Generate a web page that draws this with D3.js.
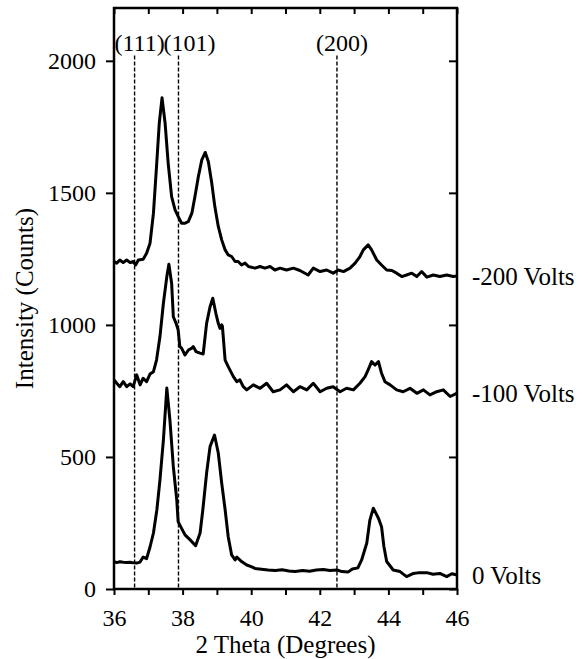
<!DOCTYPE html>
<html>
<head>
<meta charset="utf-8">
<script src="https://cdn.jsdelivr.net/npm/d3@7"></script>
<style>
  html, body { margin: 0; padding: 0; background: #fff; }
  svg { display: block; }
  svg text { font-family: "Liberation Serif", "DejaVu Serif", serif !important; fill: #000; }
</style>
</head>
<body>
<svg id="chart" width="588" height="659"></svg>
<script>
// ---- data ----
const xTicks = [36, 37, 38, 39, 40, 41, 42, 43, 44, 45, 46];
const yTicks = [0, 500, 1000, 1500, 2000];

const theta0 = [36.00,36.08,36.17,36.27,36.37,36.47,36.56,36.66,36.76,36.85,36.95,37.05,37.15,37.25,37.34,37.44,37.54,37.63,37.73,37.83,37.87,37.92,38.07,38.22,38.38,38.51,38.59,38.70,38.80,38.93,39.04,39.14,39.24,39.33,39.43,39.53,39.58,39.72,39.87,40.00,40.11,40.30,40.49,40.70,40.90,41.10,41.28,41.50,41.70,41.90,42.10,42.30,42.50,42.65,42.82,42.95,43.11,43.22,43.37,43.46,43.56,43.71,43.80,43.87,43.95,44.14,44.34,44.53,44.73,44.90,45.12,45.30,45.50,45.70,45.85,46.00];
const volts0 = [104,100,103,101,100,101,99,98,102,121,115,159,212,300,413,564,761,640,463,337,255,242,205,186,164,212,300,439,539,583,515,401,300,198,129,110,121,104,91,85,78,75,72,70,73,68,66,70,67,72,74,70,72,66,64,76,80,110,174,261,306,268,236,160,104,72,66,47,59,62,62,56,59,47,58,53];

const theta100 = [36.00,36.08,36.17,36.27,36.37,36.47,36.56,36.66,36.76,36.85,36.95,37.05,37.15,37.24,37.34,37.44,37.54,37.60,37.68,37.73,37.81,37.87,37.92,37.97,38.07,38.17,38.27,38.31,38.39,38.51,38.60,38.70,38.80,38.88,38.97,39.04,39.09,39.14,39.16,39.24,39.33,39.48,39.58,39.67,39.77,39.87,40.06,40.26,40.45,40.64,40.84,41.03,41.23,41.42,41.62,41.81,42.01,42.20,42.39,42.59,42.78,42.98,43.17,43.32,43.41,43.51,43.61,43.71,43.80,43.90,44.05,44.24,44.43,44.63,44.83,45.02,45.21,45.41,45.60,45.80,45.99];
const volts100 = [792,779,766,785,766,777,766,811,773,798,785,814,823,867,956,1082,1183,1230,1158,1031,1006,981,918,912,886,905,912,918,899,893,890,1006,1069,1101,1044,1006,987,1000,995,867,842,804,785,792,766,754,773,760,779,747,754,773,747,766,754,779,747,760,766,747,760,754,779,804,830,861,848,861,817,785,773,754,747,760,741,754,735,747,754,729,741];

const theta200 = [36.00,36.08,36.17,36.27,36.37,36.47,36.56,36.63,36.71,36.85,36.95,37.05,37.15,37.24,37.32,37.40,37.49,37.58,37.68,37.78,37.87,37.97,38.07,38.17,38.27,38.36,38.46,38.56,38.66,38.75,38.85,38.94,39.04,39.14,39.24,39.33,39.43,39.53,39.62,39.72,39.82,39.92,40.11,40.26,40.40,40.55,40.69,40.84,41.03,41.23,41.42,41.66,41.81,42.01,42.20,42.39,42.54,42.69,42.88,43.03,43.17,43.27,43.41,43.51,43.66,43.80,43.95,44.10,44.24,44.39,44.53,44.68,44.83,44.97,45.12,45.31,45.50,45.70,45.89,46.00];
const volts200 = [1240,1234,1246,1236,1246,1236,1240,1227,1246,1249,1271,1309,1423,1600,1764,1860,1764,1612,1486,1436,1411,1385,1385,1392,1423,1486,1562,1625,1653,1619,1537,1448,1373,1322,1284,1265,1259,1240,1240,1227,1234,1221,1215,1221,1215,1221,1208,1215,1208,1215,1206,1189,1215,1202,1208,1196,1208,1202,1215,1234,1259,1284,1303,1284,1246,1227,1208,1206,1196,1183,1189,1196,1183,1202,1181,1189,1183,1189,1183,1185];

const seriesLabels = ["0 Volts", "-100 Volts", "-200 Volts"];
const peakNames = ["(111)", "(101)", "(200)"];
const peakPos = [36.6, 37.88, 42.5];

// ---- layout ----
const svg = d3.select("#chart");
const mL = 114, mR = 457, mT = 8, mB = 589;
const FONT = "Liberation Serif, DejaVu Serif, serif";

const x = d3.scaleLinear().domain([36, 46]).range([mL, mR]);
const y = d3.scaleLinear().domain([0, 2200]).range([mB, mT]);

const series = [
  { t: theta0, v: volts0, label: seriesLabels[0] },
  { t: theta100, v: volts100, label: seriesLabels[1] },
  { t: theta200, v: volts200, label: seriesLabels[2] }
];

// dashed reference lines
svg.append("g").selectAll("line").data(peakPos).join("line")
  .attr("x1", d => x(d)).attr("x2", d => x(d))
  .attr("y1", y(2020)).attr("y2", mB)
  .attr("stroke", "#000").attr("stroke-width", 1.4)
  .attr("stroke-dasharray", "4,2");

// peak labels
const labelOffsets = [5, 11, 5];
svg.append("g").selectAll("text").data(peakNames).join("text")
  .attr("x", (d, i) => x(peakPos[i]) + labelOffsets[i])
  .attr("y", 51)
  .attr("text-anchor", "middle")
  .attr("font-size", 24)
  .text(d => d);

// curves
const line = d3.line().x(d => x(d[0])).y(d => y(d[1]));
svg.append("g").selectAll("path").data(series).join("path")
  .attr("d", s => line(s.t.map((t, i) => [t, s.v[i]])))
  .attr("fill", "none").attr("stroke", "#000")
  .attr("stroke-width", 3).attr("stroke-linejoin", "round");

// axes
const fmtEven = d => (d % 2 === 0 ? d : "");
const axB = svg.append("g").attr("transform", `translate(0,${mB})`)
  .call(d3.axisBottom(x).tickValues(xTicks).tickSize(6).tickPadding(14).tickFormat(fmtEven));
const axT = svg.append("g").attr("transform", `translate(0,${mT})`)
  .call(d3.axisBottom(x).tickValues(xTicks).tickSize(6).tickFormat(""));
const axL = svg.append("g").attr("transform", `translate(${mL},0)`)
  .call(d3.axisLeft(y).tickValues(yTicks).tickSize(8).tickPadding(10).tickFormat(d3.format("d")));
const axR = svg.append("g").attr("transform", `translate(${mR},0)`)
  .call(d3.axisLeft(y).tickValues(yTicks).tickSize(8).tickFormat(""));

[axB, axT, axL, axR].forEach(g => {
  g.attr("font-family", FONT);
  g.select(".domain").remove();
  g.selectAll(".tick line").attr("stroke", "#000").attr("stroke-width", 2);
  g.selectAll(".tick text").attr("font-size", 24).attr("fill", "#000");
});

// frame
svg.append("rect").attr("x", mL).attr("y", mT)
  .attr("width", mR - mL).attr("height", mB - mT)
  .attr("fill", "none").attr("stroke", "#000").attr("stroke-width", 2.5);

// series labels
svg.append("g").selectAll("text").data(series).join("text")
  .attr("x", 472)
  .attr("y", s => y(s.v[s.v.length - 1]))
  .attr("dy", "0.35em")
  .attr("font-size", 25)
  .text(s => s.label);

// axis titles
svg.append("text")
  .attr("x", (mL + mR) / 2).attr("y", 653)
  .attr("text-anchor", "middle").attr("font-size", 25)
  .text("2 Theta (Degrees)");
svg.append("text")
  .attr("transform", `translate(33,${(mT + mB) / 2}) rotate(-90)`)
  .attr("text-anchor", "middle").attr("font-size", 25)
  .text("Intensity (Counts)");
</script>
</body>
</html>
